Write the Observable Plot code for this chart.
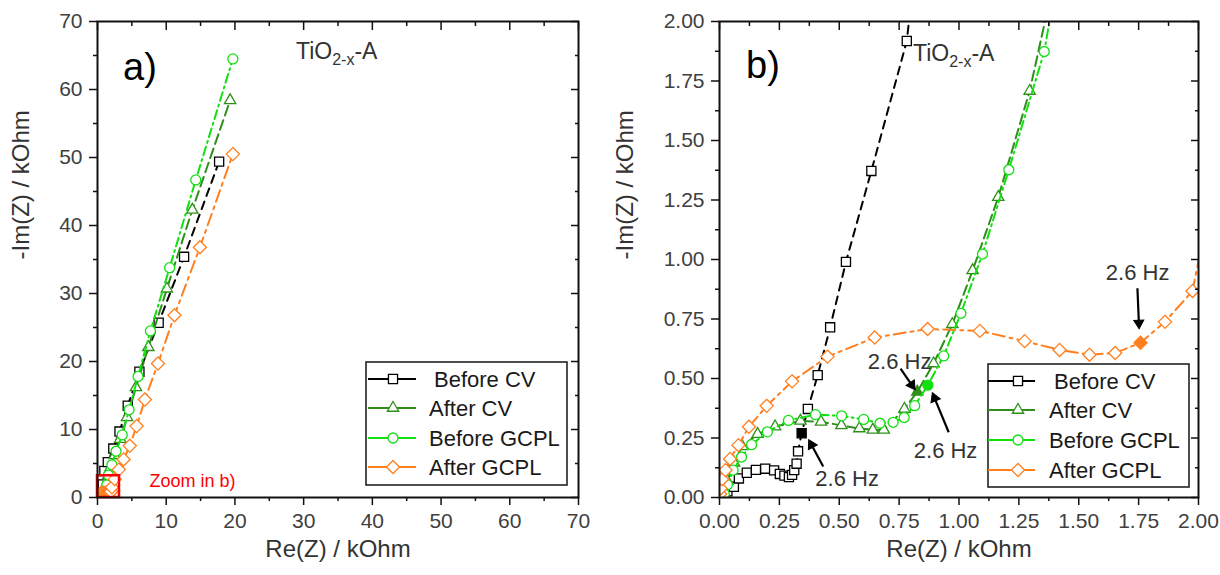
<!DOCTYPE html>
<html><head><meta charset="utf-8">
<script src="https://cdn.jsdelivr.net/npm/d3@7"></script>
<script src="https://cdn.jsdelivr.net/npm/@observablehq/plot@0.6"></script>
<style>
body{margin:0;background:#fff;}
#wrap{position:relative;width:1220px;height:575px;overflow:hidden;background:#fff;font-family:"Liberation Sans",Arial,sans-serif;}
#wrap svg{position:absolute;top:0;}
</style></head><body><div id="wrap"></div>
<script>
// ---------- data (kOhm) ----------
const seriesNames = ["Before CV", "After CV", "Before GCPL", "After GCPL"];
const seriesColors = ["#000000", "#2f8f1a", "#11e011", "#ff7f1e"];
const seriesSymbols = ["square2", "triangle2", "circle", "diamond2"];
const seriesDash = ["8,6", "10,5", "9,4,2,4", "12,5,3,5"];

const beforeCV_re = [0.033,0.06,0.081,0.114,0.152,0.191,0.228,0.252,0.271,0.29,0.303,0.312,0.322,0.328,0.343,0.369,0.41,0.462,0.528,0.634,0.782,1.0,1.5,2.3,3.2,4.4,6.1,8.9,12.6,17.7];
const beforeCV_im = [0.026,0.045,0.08,0.104,0.116,0.121,0.114,0.099,0.092,0.086,0.095,0.115,0.142,0.194,0.27,0.372,0.514,0.715,0.99,1.372,1.918,3.9,5.2,7.2,9.7,13.5,18.5,25.7,35.4,49.4];
const beforeCV_hz = 14;

const afterCV_re = [0.033,0.061,0.095,0.159,0.232,0.338,0.424,0.509,0.584,0.64,0.686,0.772,0.826,0.894,0.972,1.057,1.164,1.295,1.6,1.9,2.5,3.3,4.3,5.6,7.4,10.1,13.8,19.3];
const afterCV_im = [0.069,0.146,0.215,0.266,0.298,0.322,0.318,0.303,0.29,0.284,0.284,0.372,0.444,0.563,0.728,0.954,1.262,1.708,3.1,4.4,6.2,8.6,11.8,16.2,22.1,30.7,42.3,58.4];
const afterCV_hz = 12;

const beforeGCPL_re = [0.02,0.033,0.057,0.092,0.134,0.2,0.288,0.401,0.51,0.602,0.67,0.725,0.771,0.815,0.87,0.936,1.008,1.098,1.208,1.356,1.6,2.1,2.7,3.6,4.6,5.9,7.7,10.5,14.3,19.7];
const beforeGCPL_im = [0.015,0.054,0.115,0.17,0.222,0.276,0.324,0.348,0.343,0.328,0.312,0.316,0.336,0.386,0.472,0.595,0.774,1.023,1.377,1.874,3.3,4.8,6.8,9.2,12.9,17.8,24.5,33.8,46.7,64.5];
const beforeGCPL_hz = 14;

const afterGCPL_re = [0.003,0.005,0.011,0.025,0.044,0.079,0.123,0.197,0.303,0.451,0.648,0.869,1.087,1.274,1.42,1.545,1.652,1.758,1.86,1.975,2.1,2.5,3.1,3.8,4.7,5.7,6.9,8.8,11.2,14.9,19.7];
const afterGCPL_im = [0.015,0.038,0.077,0.115,0.162,0.22,0.297,0.385,0.488,0.592,0.672,0.708,0.7,0.657,0.62,0.6,0.607,0.65,0.738,0.868,1.5,2.7,4.1,5.6,7.6,10.5,14.4,19.7,26.8,36.8,50.5];
const afterGCPL_hz = 17;

// ticks
const ticksA_major = [0,10,20,30,40,50,60,70];
const ticksA_minor = [5,15,25,35,45,55,65];
const ticksB_major = [0,0.25,0.5,0.75,1,1.25,1.5,1.75,2];
const ticksB_minor = [0.125,0.375,0.625,0.875,1.125,1.375,1.625,1.875];

// annotations (panel b)
const hzLabel = "2.6 Hz";
const hzText_re = [0.533, 0.752, 0.944, 1.746];
const hzText_im = [0.077, 0.568, 0.197, 0.944];
const hzArrow_re1 = [0.433, 0.756, 0.957, 1.745];
const hzArrow_im1 = [0.13, 0.541, 0.274, 0.879];
const hzArrow_re2 = [0.374, 0.815, 0.89, 1.752];
const hzArrow_im2 = [0.24, 0.455, 0.437, 0.712];
const zoomBox = [0, 3.2];
const zoomText = "Zoom in b)";

// ---------- build ----------
const allRe = [beforeCV_re, afterCV_re, beforeGCPL_re, afterGCPL_re];
const allIm = [beforeCV_im, afterCV_im, beforeGCPL_im, afterGCPL_im];
const allHz = [beforeCV_hz, afterCV_hz, beforeGCPL_hz, afterGCPL_hz];
const seriesRows = allRe.map((re, s) => re.map((x, i) => ({re: x, im: allIm[s][i], hz: i === allHz[s]})));
const symSize = [5.8, 5.4, 5, 5.9];

const FONT = "Liberation Sans, Arial, sans-serif";

function panel({domain, major, minor, fmt, mLeft, mRight, titleDx, extraMarks}) {
  const marks = [];
  seriesRows.forEach((rows, s) => {
    marks.push(Plot.line(rows, {x: "re", y: "im", stroke: seriesColors[s], strokeWidth: 2, strokeDasharray: seriesDash[s], clip: true}));
    marks.push(Plot.dot(rows, {x: "re", y: "im", symbol: seriesSymbols[s], r: symSize[s], stroke: seriesColors[s], strokeWidth: 1.3,
      fill: d => d.hz ? seriesColors[s] : "white", clip: true}));
  });
  marks.push(...extraMarks);
  marks.push(
    Plot.axisX({anchor: "bottom", ticks: major, tickSize: 8, tickPadding: 8, tickFormat: fmt, stroke: "#111", strokeWidth: 1.5, fill: "#404040", fontSize: 21, label: null}),
    Plot.axisX({anchor: "bottom", ticks: minor, tickSize: 4, stroke: "#111", strokeWidth: 1.5, fill: "none"}),
    Plot.axisX({anchor: "top", ticks: major, tickSize: 8, dy: 8, stroke: "#111", strokeWidth: 1.5, fill: "none"}),
    Plot.axisX({anchor: "top", ticks: minor, tickSize: 4, dy: 4, stroke: "#111", strokeWidth: 1.5, fill: "none"}),
    Plot.axisY({anchor: "left", ticks: major, tickSize: 8, tickPadding: 7, tickFormat: fmt, stroke: "#111", strokeWidth: 1.5, fill: "#404040", fontSize: 21, label: null}),
    Plot.axisY({anchor: "left", ticks: minor, tickSize: 4, stroke: "#111", strokeWidth: 1.5, fill: "none"}),
    Plot.axisY({anchor: "right", ticks: major, tickSize: 8, dx: -8, stroke: "#111", strokeWidth: 1.5, fill: "none"}),
    Plot.axisY({anchor: "right", ticks: minor, tickSize: 4, dx: -4, stroke: "#111", strokeWidth: 1.5, fill: "none"}),
    Plot.frame({stroke: "#111", strokeWidth: 2}),
    Plot.text(["Re(Z) / kOhm"], {frameAnchor: "bottom", lineAnchor: "middle", dy: 52, fontSize: 24, fill: "#333", text: d => d}),
    Plot.text(["-Im(Z) / kOhm"], {frameAnchor: "left", lineAnchor: "middle", dx: titleDx, rotate: -90, fontSize: 24, fill: "#333", text: d => d})
  );
  return Plot.plot({
    width: 610, height: 575,
    marginLeft: mLeft, marginRight: mRight, marginTop: 21, marginBottom: 78,
    x: {domain, label: null}, y: {domain, label: null},
    style: {fontFamily: FONT, fontSize: "20px", background: "white", overflow: "visible"},
    marks
  });
}

function decorate(svgEl, o) {
  const svg = d3.select(svgEl);
  svg.append("text").attr("x", o.letterX).attr("y", o.letterY).attr("text-anchor", "start").attr("font-size", 38)
    .attr("font-family", FONT).attr("fill", "#000").text(o.letter);
  const t = svg.append("text").attr("x", o.tiX).attr("y", o.tiY).attr("text-anchor", "start").attr("font-size", 23)
    .attr("font-family", FONT).attr("fill", "#333");
  t.append("tspan").text("TiO");
  t.append("tspan").attr("font-size", 16).attr("dy", 6).text("2-x");
  t.append("tspan").attr("dy", -6).text("-A");
  const g = svg.append("g");
  g.append("rect").attr("x", o.box[0]).attr("y", o.box[1]).attr("width", o.box[2] - o.box[0]).attr("height", o.box[3] - o.box[1])
    .attr("fill", "white").attr("stroke", "#222").attr("stroke-width", 1.6);
  const syms = {square2: d3.symbolSquare2, triangle2: d3.symbolTriangle2, circle: d3.symbolCircle, diamond2: d3.symbolDiamond2};
  seriesNames.forEach((name, s) => {
    const y = o.rowY[s];
    g.append("line").attr("x1", o.lineX[0]).attr("x2", o.lineX[1]).attr("y1", y).attr("y2", y).attr("stroke", seriesColors[s]).attr("stroke-width", 2);
    g.append("path").attr("transform", `translate(${o.markX},${y})`)
      .attr("d", d3.symbol(syms[seriesSymbols[s]] || d3.symbolCircle, Math.PI * symSize[s] * symSize[s])())
      .attr("fill", "white").attr("stroke", seriesColors[s]).attr("stroke-width", 1.3);
    g.append("text").attr("x", s === 0 ? o.textX + 5 : o.textX).attr("y", y).attr("dy", "0.36em").attr("text-anchor", "start")
      .attr("font-size", 22).attr("font-family", FONT).attr("fill", "#1a1a1a").text(name);
  });
}

const wrap = document.getElementById("wrap");

const zoomRect = Plot.rect([zoomBox], {x1: d => d[0], x2: d => d[1], y1: d => d[0], y2: d => d[1], fill: "none", stroke: "#ff0000", strokeWidth: 2.5});
const zoomLabel = Plot.text([zoomText], {x: zoomBox[1], y: zoomBox[0], text: d => d, textAnchor: "start", lineAnchor: "bottom", dx: 30, dy: -11, fill: "#ff0000", fontSize: 18});

const a = panel({domain: [0, 70], major: ticksA_major, minor: ticksA_minor, fmt: d => String(d), mLeft: 97, mRight: 32, titleDx: -76,
  extraMarks: [zoomRect, zoomLabel]});
a.style.left = "0px";
wrap.appendChild(a);
decorate(a, {letter: "a)", letterX: 123, letterY: 80, tiX: 296, tiY: 59,
  box: [366, 362, 567, 485], rowY: [379, 408, 438, 467], lineX: [368, 416], markX: 393, textX: 429});

// panel b annotations: arrows with filled heads
const annIdx = hzText_re.map((_, i) => i);
const pxPerUnit = 238;
const headAngle = i => {
  const dxs = (hzArrow_re2[i] - hzArrow_re1[i]), dys = -(hzArrow_im2[i] - hzArrow_im1[i]);
  return Math.atan2(dxs, -dys) * 180 / Math.PI;
};
const headBack = (i, k) => {
  const dx = (hzArrow_re2[i] - hzArrow_re1[i]), dy = (hzArrow_im2[i] - hzArrow_im1[i]);
  const L = Math.hypot(dx, dy);
  return k === "x" ? hzArrow_re2[i] - dx / L * 5 / pxPerUnit : hzArrow_im2[i] - dy / L * 5 / pxPerUnit;
};
const arrows = Plot.link(annIdx, {x1: i => hzArrow_re1[i], y1: i => hzArrow_im1[i], x2: i => headBack(i, "x"), y2: i => headBack(i, "y"),
  stroke: "#000", strokeWidth: 2.2});
const heads = Plot.dot(annIdx, {x: i => headBack(i, "x"), y: i => headBack(i, "y"), symbol: "triangle2", r: 4.8, rotate: i => headAngle(i),
  fill: "#000", stroke: "#000", strokeWidth: 1});
const hzTexts = Plot.text(annIdx, {x: i => hzText_re[i], y: i => hzText_im[i], text: () => hzLabel, fontSize: 22, fill: "#333"});

const b = panel({domain: [0, 2], major: ticksB_major, minor: ticksB_minor, fmt: d => d.toFixed(2), mLeft: 109, mRight: 22, titleDx: -94,
  extraMarks: [arrows, heads, hzTexts]});
b.style.left = "610px";
wrap.appendChild(b);
decorate(b, {letter: "b)", letterX: 136, letterY: 78, tiX: 303, tiY: 61,
  box: [378, 364, 579, 487], rowY: [381, 410, 440, 470], lineX: [378, 425], markX: 408, textX: 439});
</script>
</body></html>
